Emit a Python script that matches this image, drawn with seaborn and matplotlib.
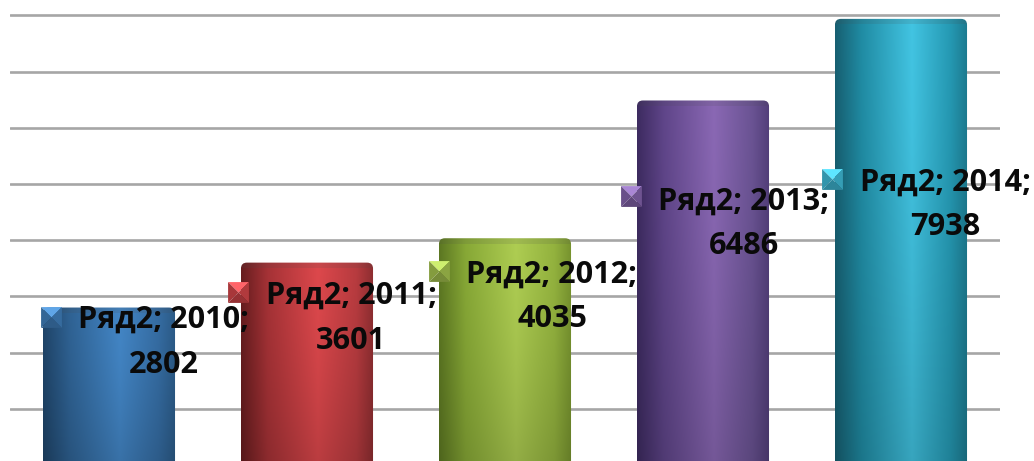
import numpy as np
import pandas as pd
import seaborn as sns
import matplotlib
matplotlib.use("Agg")
import matplotlib.pyplot as plt
from matplotlib.patches import FancyBboxPatch
from matplotlib.path import Path
from matplotlib.transforms import offset_copy
from matplotlib.colors import to_rgb

years = [2010, 2011, 2012, 2013, 2014]
values = [2802, 3601, 4035, 6486, 7938]
series_name = "Ряд2"
grid_ticks = [1000, 2000, 3000, 4000, 5000, 6000, 7000, 8000]

# shading stops across each cylinder: left edge, shoulder, highlight, shoulder, right edge
shades = {
    2010: ["#1f4468", "#2f6293", "#4386c6", "#356ca2", "#2b5a86"],
    2011: ["#661d1f", "#a53236", "#dd484c", "#b73b3f", "#8c2d30"],
    2012: ["#5c7722", "#87a836", "#aecd52", "#93b23e", "#76922e"],
    2013: ["#3d2b60", "#5f4589", "#8a68b4", "#6a5393", "#523e79"],
    2014: ["#175f71", "#208ca4", "#42c4e2", "#2599b3", "#1d7a8f"],
}
# label placement relative to the top of each bar, pixels
label_dx = [55, 44, 47, 41, 44]
label_dy = [-35, -56, -58.5, -123.5, -186]
marker_dy = [-9.5, -29, -33, -96, -160]

W, H = 1034, 461
px_per_unit = 0.0562

sns.set_style("white")
plt.rcParams["font.family"] = ["Open Sans", "DejaVu Sans"]

fig = plt.figure(figsize=(W / 100, H / 100), dpi=100)
ax = fig.add_axes([10 / W, 0, 990 / W, 1])

df = pd.DataFrame({"year": years, "value": values})
sns.barplot(data=df, x="year", y="value", color="#888888", width=0.667, ax=ax, zorder=2)

ymin, ymax = 4 / px_per_unit, 465 / px_per_unit
y_aspect = (1 / px_per_unit) * 198


def pyramid_marker(ax, x, y, trans, base):
    # small bevelled square, four triangles with different shades
    rgb = np.array(to_rgb(base))
    faces = [
        ([(-1, 1), (1, 1), (0, 0)], np.minimum(rgb * 1.3 + 0.1, 1)),
        ([(-1, 1), (-1, -1), (0, 0)], rgb * 0.95),
        ([(1, 1), (1, -1), (0, 0)], rgb * 1.0),
        ([(-1, -1), (1, -1), (0, 0)], rgb * 0.85),
    ]
    for verts, col in faces:
        ax.plot([x], [y], marker=Path(verts + [verts[0]], closed=True), markersize=15,
                color=col, markeredgewidth=0, transform=trans, clip_on=False, zorder=5)


for i, (bar, year) in enumerate(zip(ax.patches, years)):
    x0, w, h = bar.get_x(), bar.get_width(), bar.get_height()
    bar.set_visible(False)
    stops = np.array([to_rgb(c) for c in shades[year]])
    cols = np.linspace(0, 1, 200)
    band = np.stack([np.interp(cols, [0, 0.2, 0.58, 0.87, 1], stops[:, k]) for k in range(3)], axis=1)

    # slightly darker towards the base, thin lighter rim along the top
    depth = h * px_per_unit
    rows = np.arange(int(depth) + 1)
    fade = 1 - 0.16 * (rows / max(depth, 1)) ** 1.5
    img = band[None, :, :] * fade[:, None, None]
    img[:6] = np.clip(img[:6] * 0.86 + 0.04, 0, 1)

    im = ax.imshow(img, extent=(x0, x0 + w, 0, h), origin="upper", aspect="auto", zorder=2.5)
    clip = FancyBboxPatch((x0, -300), w, h + 300, boxstyle="round,pad=0,rounding_size=0.03",
                          mutation_aspect=y_aspect, transform=ax.transData, fc="none", ec="none")
    ax.add_patch(clip)
    im.set_clip_path(clip)

    ax.annotate(f"{series_name}; {year};\n{values[i]}", xy=(i, h),
                xytext=(label_dx[i], label_dy[i]), textcoords="offset pixels",
                ha="center", va="center", fontsize=22.1, fontweight="bold",
                color="#0a0a0a", linespacing=1.65, annotation_clip=False, zorder=6)
    mark = offset_copy(ax.transData, fig=fig, x=label_dx[i] - 113, y=marker_dy[i], units="dots")
    pyramid_marker(ax, i, h, mark, stops[2] * 0.8)

ax.set_xlim(-0.5, 4.5)
ax.set_ylim(ymin, ymax)
ax.set_yticks(grid_ticks)
ax.yaxis.grid(True, color="#a6a6a6", linewidth=1.9, zorder=0)
ax.set_axisbelow(True)
ax.tick_params(left=False, bottom=False, labelleft=False, labelbottom=False)
ax.set_xlabel("")
ax.set_ylabel("")
sns.despine(ax=ax, left=True, bottom=True)

fig.savefig("out.png", dpi=100)
